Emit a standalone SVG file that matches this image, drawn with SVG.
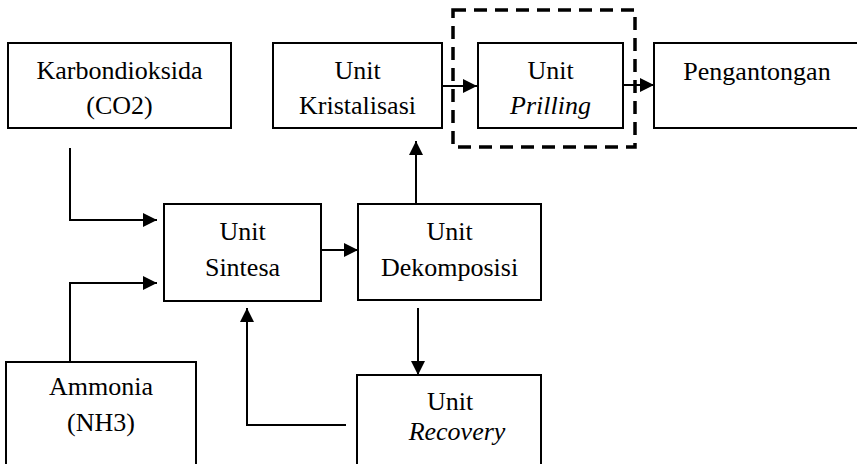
<svg xmlns="http://www.w3.org/2000/svg" width="857" height="464" viewBox="0 0 857 464">
  <style>
    .box { fill: #fff; stroke: #000; stroke-width: 2; }
    .lbl { font-family: "Liberation Serif", "Times New Roman", serif; font-size: 26px; fill: #000; text-anchor: middle; }
    .it { font-style: italic; }
    .wire { fill: none; stroke: #000; stroke-width: 2; }
    .frame { fill: none; stroke: #000; stroke-width: 3.5; stroke-dasharray: 13 8; }
  </style>
  <defs>
    <marker id="arrow" markerUnits="userSpaceOnUse" markerWidth="15" markerHeight="15" refX="14" refY="7" orient="auto">
      <path d="M0,0 L14,7 L0,14 z" fill="#000"/>
    </marker>
  </defs>
  <rect width="857" height="464" fill="#fff"/>

  <!-- process units -->
  <g id="co2">
    <rect class="box" x="8" y="43" width="223" height="85"/>
    <text class="lbl" x="119.5" y="79">Karbondioksida</text>
    <text class="lbl" x="119.5" y="114">(CO2)</text>
  </g>
  <g id="kristalisasi">
    <rect class="box" x="273" y="43" width="169" height="85"/>
    <text class="lbl" x="357.5" y="79">Unit</text>
    <text class="lbl" x="357.5" y="114">Kristalisasi</text>
  </g>
  <g id="prilling">
    <rect class="box" x="478" y="43" width="145" height="85"/>
    <text class="lbl" x="550.5" y="79">Unit</text>
    <text class="lbl it" x="550.5" y="114">Prilling</text>
  </g>
  <g id="prilling-frame">
    <rect class="frame" x="453" y="10" width="182" height="137"/>
  </g>
  <g id="pengantongan">
    <rect class="box" x="654" y="43" width="210" height="85"/>
    <text class="lbl" x="757" y="80">Pengantongan</text>
  </g>
  <g id="sintesa">
    <rect class="box" x="164" y="204" width="157" height="97"/>
    <text class="lbl" x="242.5" y="240">Unit</text>
    <text class="lbl" x="242.5" y="276">Sintesa</text>
  </g>
  <g id="dekomposisi">
    <rect class="box" x="358" y="204" width="183" height="96"/>
    <text class="lbl" x="449.5" y="240">Unit</text>
    <text class="lbl" x="449.5" y="276">Dekomposisi</text>
  </g>
  <g id="ammonia">
    <rect class="box" x="6" y="362" width="190" height="110"/>
    <text class="lbl" x="101" y="395">Ammonia</text>
    <text class="lbl" x="101" y="431">(NH3)</text>
  </g>
  <g id="recovery">
    <rect class="box" x="357" y="375" width="184" height="97"/>
    <text class="lbl" x="450" y="410">Unit</text>
    <text class="lbl it" x="457" y="440">Recovery</text>
  </g>

  <!-- flow lines -->
  <g id="connectors">
    <path class="wire" d="M70,148 V220 H157" marker-end="url(#arrow)"/>
    <path class="wire" d="M70,362 V283 H157" marker-end="url(#arrow)"/>
    <path class="wire" d="M321,250 H358" marker-end="url(#arrow)"/>
    <path class="wire" d="M416,204 V141" marker-end="url(#arrow)"/>
    <path class="wire" d="M442,86 H477" marker-end="url(#arrow)"/>
    <path class="wire" d="M623,85 H654" marker-end="url(#arrow)"/>
    <path class="wire" d="M418,308 V375" marker-end="url(#arrow)"/>
    <path class="wire" d="M346,425 H247 V308" marker-end="url(#arrow)"/>
  </g>
</svg>
